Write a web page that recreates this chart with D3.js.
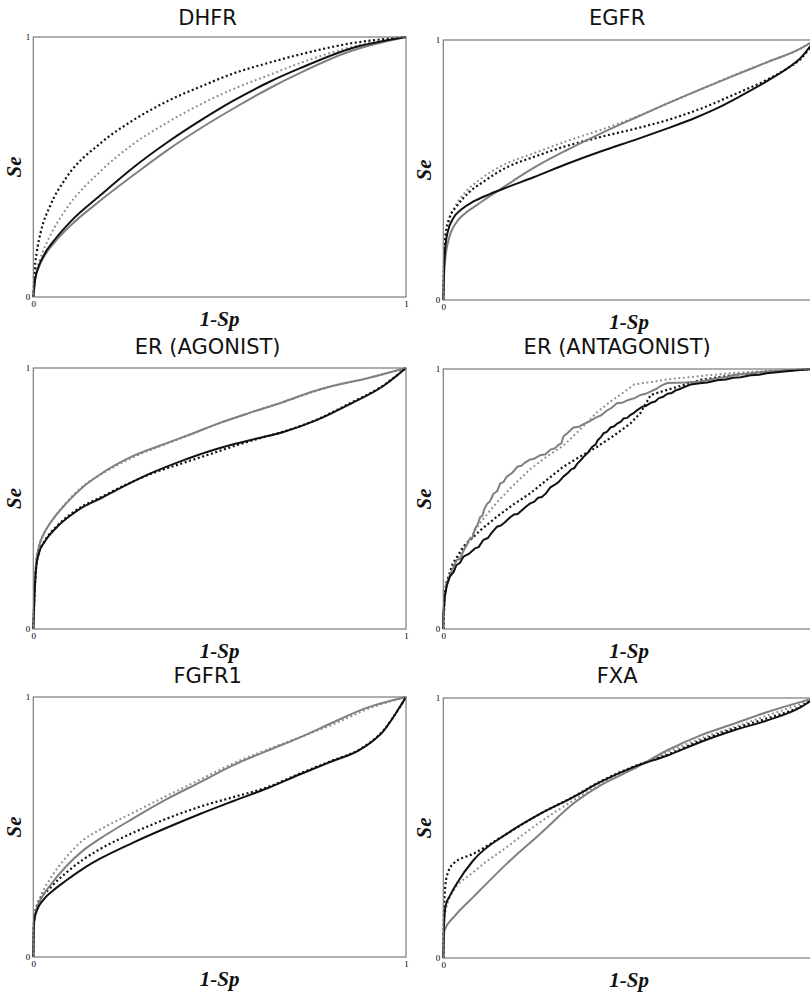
<!DOCTYPE html>
<html>
<head>
<meta charset="utf-8">
<script src="https://cdn.jsdelivr.net/npm/d3@7/dist/d3.min.js"></script>
<style>
  body { margin: 0; background: #fff; }
  svg { display: block; }
</style>
</head>
<body>
<svg id="chart" width="810" height="996"></svg>
<script>
// ROC curves (Se vs 1-Sp) for six targets, four methods each.
const panelTitles = ["DHFR", "EGFR", "ER (AGONIST)", "ER (ANTAGONIST)", "FGFR1", "FXA"];
const axisTicks = [0, 1];
const xAxisLabel = "1-Sp";
const yAxisLabel = "Se";

// ---- DHFR ----
const dhfrBlackSolid = [[0,0],[0.005,0.07],[0.015,0.12],[0.03,0.165],[0.06,0.225],[0.1,0.29],[0.179,0.39],[0.27,0.5],[0.36,0.595],[0.45,0.68],[0.537,0.755],[0.63,0.825],[0.716,0.88],[0.85,0.955],[1,1]];
const dhfrGraySolid = [[0,0],[0.005,0.065],[0.015,0.115],[0.03,0.158],[0.06,0.215],[0.1,0.275],[0.179,0.37],[0.27,0.47],[0.36,0.565],[0.45,0.65],[0.537,0.725],[0.63,0.8],[0.716,0.862],[0.85,0.945],[1,1]];
const dhfrBlackDotted = [[0,0],[0.004,0.11],[0.009,0.17],[0.02,0.25],[0.045,0.35],[0.089,0.46],[0.179,0.59],[0.268,0.68],[0.358,0.752],[0.45,0.81],[0.537,0.86],[0.63,0.9],[0.716,0.933],[0.85,0.975],[1,1]];
const dhfrGrayDotted = [[0,0],[0.005,0.08],[0.018,0.145],[0.045,0.235],[0.089,0.34],[0.179,0.482],[0.268,0.588],[0.358,0.67],[0.45,0.742],[0.537,0.8],[0.63,0.852],[0.716,0.9],[0.85,0.96],[1,1]];

// ---- EGFR ----
const egfrBlackSolid = [[0,0],[0.002,0.12],[0.006,0.21],[0.012,0.262],[0.027,0.315],[0.05,0.35],[0.08,0.378],[0.126,0.408],[0.18,0.438],[0.243,0.472],[0.33,0.522],[0.423,0.571],[0.52,0.618],[0.603,0.66],[0.68,0.702],[0.737,0.738],[0.8,0.785],[0.872,0.843],[0.93,0.895],[0.962,0.932],[1,1]];
const egfrGraySolid = [[0,0],[0.002,0.09],[0.006,0.165],[0.015,0.235],[0.036,0.3],[0.06,0.335],[0.09,0.365],[0.12,0.395],[0.153,0.425],[0.2,0.47],[0.243,0.508],[0.33,0.575],[0.423,0.64],[0.52,0.703],[0.603,0.756],[0.7,0.815],[0.782,0.863],[0.872,0.915],[0.962,0.968],[1,1]];
const egfrBlackDotted = [[0,0],[0.002,0.15],[0.006,0.25],[0.015,0.31],[0.036,0.36],[0.07,0.415],[0.108,0.455],[0.17,0.51],[0.243,0.55],[0.33,0.592],[0.423,0.627],[0.52,0.66],[0.603,0.692],[0.7,0.74],[0.782,0.79],[0.872,0.848],[0.93,0.895],[0.962,0.928],[1,1]];
const egfrGrayDotted = [[0,0],[0.002,0.14],[0.006,0.235],[0.015,0.3],[0.036,0.37],[0.063,0.42],[0.1,0.465],[0.153,0.513],[0.243,0.564],[0.33,0.61],[0.423,0.654],[0.52,0.705],[0.603,0.756],[0.7,0.815],[0.782,0.865],[0.872,0.915],[0.962,0.968],[1,1]];

// ---- ER (AGONIST) ----
const eragoBlackSolid = [[0,0],[0.003,0.12],[0.008,0.24],[0.015,0.29],[0.03,0.333],[0.063,0.39],[0.1,0.435],[0.134,0.468],[0.18,0.5],[0.224,0.533],[0.313,0.595],[0.402,0.646],[0.47,0.68],[0.537,0.708],[0.6,0.73],[0.671,0.755],[0.76,0.8],[0.85,0.862],[0.94,0.932],[1,1]];
const eragoGraySolid = [[0,0],[0.003,0.15],[0.008,0.26],[0.015,0.315],[0.03,0.37],[0.045,0.405],[0.089,0.482],[0.134,0.545],[0.179,0.592],[0.268,0.663],[0.358,0.712],[0.42,0.745],[0.492,0.785],[0.58,0.828],[0.671,0.87],[0.75,0.91],[0.805,0.932],[0.894,0.96],[1,1]];
const eragoBlackDotted = [[0,0],[0.003,0.12],[0.008,0.24],[0.015,0.292],[0.03,0.336],[0.063,0.394],[0.1,0.44],[0.134,0.472],[0.18,0.504],[0.224,0.536],[0.313,0.593],[0.402,0.636],[0.47,0.668],[0.537,0.7],[0.6,0.728],[0.671,0.756],[0.76,0.802],[0.85,0.865],[0.94,0.934],[1,1]];
const eragoGrayDotted = [[0,0],[0.003,0.15],[0.008,0.26],[0.015,0.315],[0.03,0.37],[0.045,0.405],[0.089,0.485],[0.134,0.548],[0.179,0.59],[0.268,0.658],[0.358,0.71],[0.42,0.744],[0.492,0.785],[0.58,0.828],[0.671,0.87],[0.75,0.908],[0.805,0.932],[0.894,0.96],[1,1]];

// ---- ER (ANTAGONIST) ----
const erantBlackSolid = [[0,0],[0,0.06],[0.004,0.125],[0.01,0.17],[0.018,0.202],[0.028,0.22],[0.035,0.245],[0.045,0.255],[0.054,0.278],[0.07,0.29],[0.085,0.31],[0.095,0.315],[0.108,0.343],[0.12,0.35],[0.13,0.37],[0.144,0.393],[0.155,0.398],[0.165,0.41],[0.18,0.43],[0.19,0.44],[0.2,0.442],[0.21,0.455],[0.222,0.47],[0.234,0.483],[0.245,0.49],[0.255,0.505],[0.265,0.508],[0.275,0.52],[0.288,0.545],[0.3,0.555],[0.31,0.565],[0.323,0.586],[0.335,0.6],[0.345,0.615],[0.352,0.618],[0.36,0.635],[0.37,0.65],[0.378,0.663],[0.39,0.68],[0.4,0.7],[0.41,0.71],[0.415,0.725],[0.425,0.74],[0.431,0.753],[0.44,0.758],[0.45,0.775],[0.46,0.78],[0.468,0.79],[0.478,0.798],[0.485,0.81],[0.495,0.812],[0.503,0.823],[0.512,0.83],[0.52,0.84],[0.535,0.855],[0.545,0.858],[0.558,0.87],[0.57,0.875],[0.58,0.888],[0.59,0.892],[0.603,0.905],[0.615,0.908],[0.625,0.918],[0.635,0.922],[0.647,0.93],[0.665,0.94],[0.69,0.945],[0.71,0.948],[0.737,0.957],[0.76,0.96],[0.78,0.966],[0.8,0.968],[0.827,0.976],[0.85,0.978],[0.87,0.984],[0.917,0.99],[0.96,0.996],[1,1]];
const erantGraySolid = [[0,0],[0,0.035],[0.004,0.12],[0.009,0.176],[0.02,0.215],[0.028,0.24],[0.036,0.265],[0.045,0.27],[0.054,0.3],[0.062,0.32],[0.07,0.345],[0.078,0.35],[0.085,0.385],[0.092,0.4],[0.099,0.43],[0.105,0.435],[0.11,0.46],[0.117,0.48],[0.125,0.49],[0.135,0.52],[0.145,0.53],[0.153,0.56],[0.162,0.565],[0.17,0.585],[0.185,0.6],[0.2,0.625],[0.21,0.628],[0.22,0.64],[0.234,0.652],[0.245,0.655],[0.26,0.668],[0.275,0.672],[0.288,0.69],[0.3,0.695],[0.31,0.708],[0.318,0.715],[0.323,0.74],[0.335,0.755],[0.35,0.775],[0.365,0.778],[0.38,0.79],[0.395,0.8],[0.413,0.815],[0.425,0.822],[0.44,0.84],[0.452,0.85],[0.467,0.868],[0.48,0.87],[0.5,0.882],[0.515,0.888],[0.53,0.9],[0.545,0.905],[0.56,0.915],[0.575,0.925],[0.585,0.935],[0.603,0.946],[0.65,0.948],[0.692,0.952],[0.72,0.96],[0.74,0.965],[0.76,0.968],[0.782,0.977],[0.83,0.984],[0.872,0.99],[0.93,0.995],[1,1]];
const erantBlackDotted = [[0,0],[0.004,0.14],[0.009,0.18],[0.025,0.25],[0.054,0.317],[0.1,0.38],[0.144,0.432],[0.19,0.48],[0.234,0.522],[0.28,0.575],[0.323,0.624],[0.37,0.665],[0.413,0.7],[0.46,0.745],[0.503,0.79],[0.53,0.83],[0.558,0.9],[0.603,0.92],[0.692,0.958],[0.782,0.977],[0.872,0.99],[1,1]];
const erantGrayDotted = [[0,0],[0.004,0.14],[0.009,0.18],[0.03,0.25],[0.063,0.33],[0.1,0.41],[0.144,0.487],[0.19,0.555],[0.234,0.615],[0.28,0.665],[0.323,0.705],[0.37,0.77],[0.413,0.833],[0.45,0.875],[0.485,0.91],[0.513,0.94],[0.603,0.96],[0.692,0.973],[0.782,0.985],[0.872,0.992],[1,1]];

// ---- FGFR1 ----
const fgfrBlackSolid = [[0,0],[0.001,0.1],[0.003,0.145],[0.01,0.18],[0.027,0.22],[0.05,0.252],[0.089,0.295],[0.134,0.34],[0.179,0.378],[0.268,0.44],[0.358,0.497],[0.447,0.55],[0.537,0.6],[0.626,0.648],[0.716,0.703],[0.805,0.755],[0.87,0.792],[0.91,0.83],[0.94,0.87],[0.965,0.92],[0.985,0.965],[1,1]];
const fgfrGraySolid = [[0,0],[0.001,0.1],[0.003,0.15],[0.01,0.19],[0.025,0.235],[0.045,0.275],[0.089,0.35],[0.134,0.41],[0.179,0.455],[0.268,0.533],[0.358,0.607],[0.447,0.672],[0.537,0.738],[0.626,0.792],[0.716,0.845],[0.805,0.903],[0.894,0.958],[1,1]];
const fgfrBlackDotted = [[0,0],[0.001,0.11],[0.004,0.16],[0.015,0.21],[0.045,0.265],[0.089,0.325],[0.134,0.375],[0.179,0.415],[0.268,0.478],[0.358,0.532],[0.447,0.578],[0.537,0.615],[0.626,0.652],[0.716,0.706],[0.805,0.757],[0.87,0.794],[0.91,0.832],[0.94,0.872],[0.965,0.921],[0.985,0.965],[1,1]];
const fgfrGrayDotted = [[0,0],[0.001,0.12],[0.004,0.17],[0.02,0.235],[0.045,0.3],[0.089,0.385],[0.134,0.45],[0.179,0.49],[0.268,0.555],[0.358,0.62],[0.447,0.682],[0.537,0.745],[0.626,0.797],[0.716,0.846],[0.805,0.895],[0.894,0.952],[1,1]];

// ---- FXA ----
const fxaBlackSolid = [[0,0],[0.002,0.13],[0.006,0.2],[0.018,0.24],[0.036,0.286],[0.081,0.376],[0.171,0.478],[0.261,0.555],[0.35,0.619],[0.423,0.677],[0.513,0.735],[0.603,0.779],[0.692,0.831],[0.782,0.876],[0.872,0.914],[0.962,0.965],[1,1]];
const fxaGraySolid = [[0,0],[0.003,0.106],[0.03,0.16],[0.081,0.235],[0.171,0.363],[0.261,0.478],[0.35,0.594],[0.423,0.664],[0.513,0.728],[0.603,0.799],[0.692,0.856],[0.782,0.901],[0.872,0.946],[0.962,0.985],[1,1]];
const fxaBlackDotted = [[0,0],[0.002,0.2],[0.009,0.312],[0.027,0.363],[0.081,0.401],[0.171,0.478],[0.261,0.555],[0.35,0.62],[0.423,0.679],[0.513,0.737],[0.603,0.782],[0.692,0.836],[0.782,0.882],[0.872,0.922],[0.962,0.968],[1,1]];
const fxaGrayDotted = [[0,0],[0.003,0.15],[0.02,0.24],[0.081,0.33],[0.171,0.427],[0.261,0.523],[0.35,0.606],[0.44,0.68],[0.513,0.73],[0.603,0.792],[0.692,0.844],[0.782,0.888],[0.872,0.933],[0.962,0.978],[1,1]];

const panelSeries = [
  [dhfrGrayDotted, dhfrBlackDotted, dhfrGraySolid, dhfrBlackSolid],
  [egfrGrayDotted, egfrBlackDotted, egfrGraySolid, egfrBlackSolid],
  [eragoGrayDotted, eragoBlackDotted, eragoGraySolid, eragoBlackSolid],
  [erantGrayDotted, erantBlackDotted, erantGraySolid, erantBlackSolid],
  [fgfrGrayDotted, fgfrBlackDotted, fgfrGraySolid, fgfrBlackSolid],
  [fxaGrayDotted, fxaBlackDotted, fxaGraySolid, fxaBlackSolid]
];

// drawing styles in the same order as each panel's series list
const seriesStyles = [
  { color: "#8a8a8a", width: 2,   dash: "1.8,2.8" },
  { color: "#111111", width: 2.2, dash: "2,2.6" },
  { color: "#808080", width: 2,   dash: null },
  { color: "#111111", width: 2,   dash: null }
];

// panel frames: [left, right, top, bottom]
const frames = [
  [33.3, 406, 37, 297], [443.3, 815, 40, 300],
  [33.3, 406, 368, 629], [443.3, 815, 369, 629],
  [33.3, 406, 697, 957], [443.3, 815, 698, 958]
];
// title baselines per row
const titleBaselines = [25, 354, 683];

const W = 810;
const svg = d3.select("#chart");

panelTitles.forEach((title, i) => {
  const [x0, x1, y0, y1] = frames[i];
  const x = d3.scaleLinear().domain([0, 1]).range([x0, x1]);
  const y = d3.scaleLinear().domain([0, 1]).range([y1, y0]);
  const g = svg.append("g");

  // series curves; the antagonist set is drawn as raw steps
  const rough = title === "ER (ANTAGONIST)";
  const line = d3.line()
    .x(d => x(d[0]))
    .y(d => y(d[1]))
    .curve(rough ? d3.curveLinear : d3.curveMonotoneX);

  const clipId = "clip" + i;
  g.append("clipPath").attr("id", clipId)
    .append("rect").attr("x", x0 - 2).attr("y", y0 - 2)
    .attr("width", x1 - x0 + 4).attr("height", y1 - y0 + 4);

  panelSeries[i].forEach((series, k) => {
    const st = seriesStyles[k];
    g.append("path")
      .datum(series)
      .attr("clip-path", `url(#${clipId})`)
      .attr("d", line)
      .attr("fill", "none")
      .attr("stroke", st.color)
      .attr("stroke-width", st.width)
      .attr("stroke-linejoin", "round")
      .attr("stroke-dasharray", st.dash);
  });

  // frame
  g.append("rect")
    .attr("x", x0).attr("y", y0)
    .attr("width", x1 - x0).attr("height", y1 - y0)
    .attr("fill", "none")
    .attr("stroke", "#7a7a7a")
    .attr("stroke-width", 1.2);

  // axes (ticks 0 and 1 only); labels past the page edge are skipped
  const fmt = d3.format("d");
  const xTicks = axisTicks.filter(t => x(t) < W - 4);
  const ax = g.append("g").attr("transform", `translate(0,${y1})`)
    .call(d3.axisBottom(x).tickValues(xTicks).tickSize(0).tickPadding(4).tickFormat(fmt));
  const ay = g.append("g").attr("transform", `translate(${x0},0)`)
    .call(d3.axisLeft(y).tickValues(axisTicks).tickSize(0).tickPadding(3).tickFormat(fmt));
  [ax, ay].forEach(a => {
    a.select(".domain").remove();
    a.selectAll("text")
      .attr("font-family", "Liberation Serif, serif")
      .attr("font-size", 9)
      .attr("fill", "#000");
  });

  // title
  g.append("text")
    .attr("x", (x0 - 24 + x1) / 2)
    .attr("y", titleBaselines[Math.floor(i / 2)])
    .attr("text-anchor", "middle")
    .attr("font-family", "DejaVu Sans, sans-serif")
    .attr("font-size", 21)
    .attr("fill", "#111")
    .text(title);

  // axis labels
  g.append("text")
    .attr("x", (x0 + x1) / 2)
    .attr("y", y1 + 29)
    .attr("text-anchor", "middle")
    .attr("font-family", "Liberation Serif, serif")
    .attr("font-style", "italic")
    .attr("font-weight", "bold")
    .attr("font-size", 21)
    .attr("fill", "#111")
    .text(xAxisLabel);

  g.append("text")
    .attr("transform", `translate(${x0 - 12},${(y0 + y1) / 2}) rotate(-90)`)
    .attr("text-anchor", "middle")
    .attr("font-family", "Liberation Serif, serif")
    .attr("font-style", "italic")
    .attr("font-weight", "bold")
    .attr("font-size", 21)
    .attr("fill", "#111")
    .text(yAxisLabel);
});
</script>
</body>
</html>
